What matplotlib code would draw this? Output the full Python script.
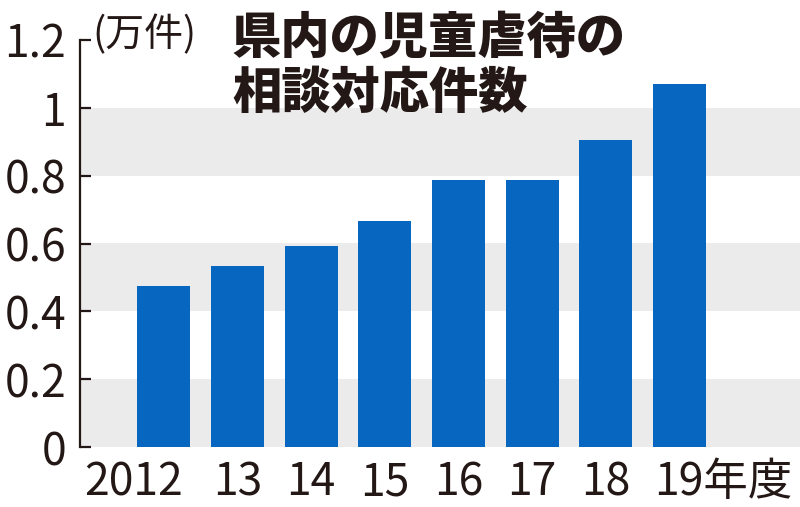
import matplotlib
matplotlib.use('Agg')
import matplotlib.pyplot as plt

plt.rcParams['font.family'] = ['Noto Sans CJK JP', 'DejaVu Sans']

years = ['2012', '13', '14', '15', '16', '17', '18', '19']
counts = [0.474, 0.535, 0.593, 0.666, 0.788, 0.788, 0.904, 1.071]
yticks = [0, 0.2, 0.4, 0.6, 0.8, 1.0, 1.2]
ytick_labels = ['0', '0.2', '0.4', '0.6', '0.8', '1', '1.2']

W, H = 800, 507
fig = plt.figure(figsize=(W / 100, H / 100), dpi=100)
ax = fig.add_axes([80 / W, 1 - 447 / H, 1 - 80 / W, (447 - 40) / H])

# alternating gray bands
for lo in [0, 0.4, 0.8]:
    ax.axhspan(lo, lo + 0.2, color='#ebebeb', lw=0, zorder=0)

x = list(range(len(years)))
ax.bar(x, counts, width=0.72, color='#0766c0', zorder=2)

ax.set_xlim(-1.14, 8.64)
ax.set_ylim(0, 1.2)

for s in ['top', 'right', 'bottom']:
    ax.spines[s].set_visible(False)
ax.spines['left'].set_linewidth(1.6)
ax.spines['left'].set_color('#231815')

ax.set_yticks(yticks)
ax.set_yticklabels(ytick_labels)
ax.tick_params(axis='y', direction='in', length=8, width=1.6, color='#231815',
               pad=10, labelsize=32, labelcolor='#231815')
ax.set_xticks([])

# x labels
trans = ax.get_xaxis_transform()
for i, lab in enumerate(years):
    if i == 0:
        ax.text(i + 0.26, -0.03, lab, transform=trans, ha='right', va='top',
                fontsize=32, color='#231815')
    elif i == len(years) - 1:
        ax.text(i - 0.34, -0.03, lab + '年度', transform=trans, ha='left', va='top',
                fontsize=32, color='#231815')
    else:
        ax.text(i, -0.03, lab, transform=trans, ha='center', va='top',
                fontsize=32, color='#231815')

fig.text(92 / W, 1 - 35 / H, '(万件)', ha='left', va='center', fontsize=28,
         color='#231815')

fig.text(232 / W, 1 - 37 / H, '県内の児童虐待の', ha='left', va='center',
         fontsize=35.5, fontweight='black', color='#231815')
fig.text(232 / W, 1 - 93 / H, '相談対応件数', ha='left', va='center',
         fontsize=35.5, fontweight='black', color='#231815')

fig.savefig('out.png', dpi=100)
